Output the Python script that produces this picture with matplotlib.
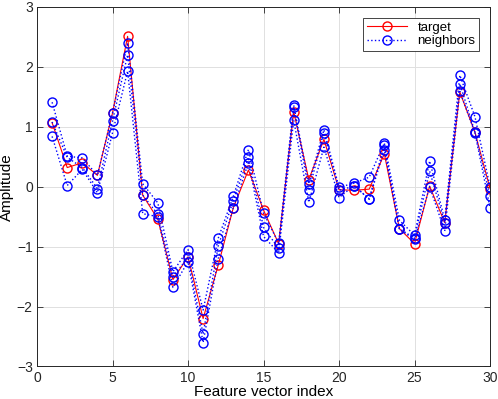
import numpy as np
import matplotlib
matplotlib.use('Agg')
import matplotlib.pyplot as plt

plt.rcParams['font.family'] = ['Liberation Sans', 'DejaVu Sans']

idx = np.arange(1, 31)
target = [1.07, 0.32, 0.40, 0.19, 1.23, 2.51, -0.14, -0.54, -1.55, -1.17,
          -2.20, -1.31, -0.35, 0.28, -0.39, -0.95, 1.25, 0.12, 0.79, -0.05,
          -0.06, -0.04, 0.55, -0.70, -0.95, 0.01, -0.60, 1.58, 0.91, -0.03]
neighbor1 = [1.41, 0.51, 0.48, 0.19, 1.23, 2.40, 0.05, -0.27, -1.42, -1.05,
             -2.06, -0.86, -0.16, 0.62, -0.44, -0.94, 1.36, 0.05, 0.95, -0.01,
             0.06, 0.16, 0.73, -0.56, -0.81, 0.43, -0.55, 1.86, 1.17, 0.00]
neighbor2 = [1.08, 0.49, 0.32, -0.03, 1.10, 2.20, -0.14, -0.46, -1.50, -1.18,
             -2.46, -0.99, -0.23, 0.49, -0.68, -1.03, 1.33, -0.06, 0.89, -0.06,
             0.01, -0.20, 0.69, -0.70, -0.86, 0.26, -0.60, 1.72, 0.91, -0.16]
neighbor3 = [0.84, 0.02, 0.29, -0.10, 0.90, 1.93, -0.45, -0.50, -1.68, -1.25,
             -2.60, -1.20, -0.35, 0.40, -0.83, -1.10, 1.11, -0.26, 0.66, -0.18,
             0.02, -0.21, 0.62, -0.71, -0.88, 0.00, -0.74, 1.59, 0.90, -0.35]

fig = plt.figure(figsize=(4.98, 3.99), dpi=100)
ax = fig.add_axes([0.0743, 0.0815, 0.9097, 0.901])

ax.plot(idx, target, 'r-o', label='target', linewidth=0.8,
        markersize=6.5, markerfacecolor='none', markeredgewidth=1)
for k, nb in enumerate([neighbor1, neighbor2, neighbor3]):
    ax.plot(idx, nb, 'b:o', label='neighbors' if k == 0 else None,
            linewidth=1.0, markersize=6.5, markerfacecolor='none',
            markeredgewidth=1)

ax.set_xlim(0, 30)
ax.set_ylim(-3, 3)
ax.set_xticks([0, 5, 10, 15, 20, 25, 30])
ax.set_yticks([-3, -2, -1, 0, 1, 2, 3])
ax.set_xlabel('Feature vector index', fontsize=11, labelpad=0)
ax.set_ylabel('Amplitude', fontsize=11, labelpad=2)
ax.tick_params(direction='in', top=True, right=True, labelsize=10,
               length=4, width=0.6, colors='0.15', pad=3)
ax.grid(True, color='0.88', linewidth=0.7)
ax.set_axisbelow(True)
for s in ax.spines.values():
    s.set_color('0.15')
    s.set_linewidth(0.7)

leg = ax.legend(loc='upper right', fontsize=9.5, fancybox=False,
                edgecolor='0.15', framealpha=1, borderpad=0.3,
                handlelength=3, labelspacing=0.1, borderaxespad=0.8)
leg.get_frame().set_linewidth(0.6)

plt.savefig('out.png', dpi=100)
